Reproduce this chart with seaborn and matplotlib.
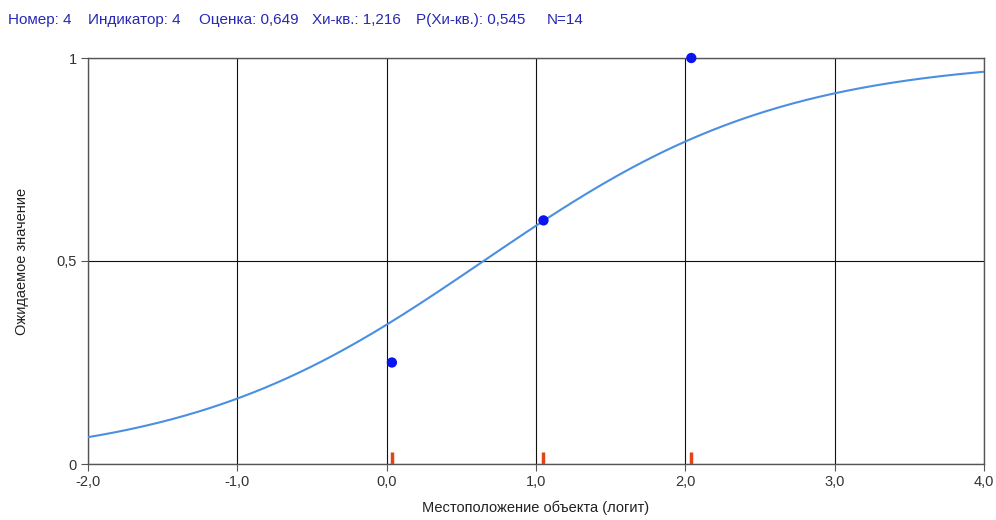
import numpy as np
import pandas as pd
import matplotlib
matplotlib.use("Agg")
import matplotlib.pyplot as plt
import seaborn as sns

# Item summary
item_number = 4
indicator = 4
difficulty = 0.649
chi_sq = 1.216
p_chi_sq = 0.545
n_obs = 14

# Observed group means (logit location, mean score)
group_locations = [0.035, 1.05, 2.04]
group_means = [0.25, 0.60, 1.00]

# Axis ticks
x_ticks = [-2.0, -1.0, 0.0, 1.0, 2.0, 3.0, 4.0]
y_ticks = [0.0, 0.5, 1.0]
y_tick_labels = ["0", "0,5", "1"]


def comma(v, digits):
    return f"{v:.{digits}f}".replace(".", ",")


sns.set_theme(style="white")
plt.rcParams["font.family"] = ["Liberation Sans", "DejaVu Sans"]

fig = plt.figure(figsize=(9.96, 5.2), dpi=100)
ax = fig.add_axes([88 / 996, 1 - 464 / 520, (984 - 88) / 996, (464 - 58) / 520])

# Expected score curve (Rasch model) from the item estimate
theta = np.linspace(-2.0, 4.0, 400)
curve = pd.DataFrame({"x": theta, "y": 1.0 / (1.0 + np.exp(-(theta - difficulty)))})
sns.lineplot(data=curve, x="x", y="y", ax=ax, color="#4a8fe0", linewidth=1.5, zorder=3)

obs = pd.DataFrame({"x": group_locations, "y": group_means})
sns.scatterplot(data=obs, x="x", y="y", ax=ax, color="#0a14f0", s=55,
                edgecolor="none", zorder=5, clip_on=False)

# Group location markers on the baseline
ax.vlines(group_locations, 0, 0.03, colors="#e0451a", linewidth=2.5, zorder=4)

ax.set_xlim(-2.0, 4.0)
ax.set_ylim(0.0, 1.0)
ax.set_xticks(x_ticks)
ax.set_xticklabels([comma(v, 1) for v in x_ticks])
ax.set_yticks(y_ticks)
ax.set_yticklabels(y_tick_labels)

ax.grid(True, color="#111111", linewidth=0.8)
ax.set_axisbelow(True)
for s in ax.spines.values():
    s.set_visible(True)
    s.set_color("#555555")
    s.set_linewidth(1.0)

ax.tick_params(axis="both", which="major", length=5, width=0.8, color="#555555",
               labelsize=10.5, labelcolor="#333333", bottom=True, left=True, pad=3)

ax.set_xlabel("Местоположение объекта (логит)", fontsize=10.5, color="#222222", labelpad=8)
ax.set_ylabel("Ожидаемое значение", fontsize=10.5, color="#222222", labelpad=20)

# Header with item statistics, one field per slot
header_fields = [
    f"Номер: {item_number}",
    f"Индикатор: {indicator}",
    f"Оценка: {comma(difficulty, 3)}",
    f"Хи-кв.: {comma(chi_sq, 3)}",
    f"P(Хи-кв.): {comma(p_chi_sq, 3)}",
    f"N={n_obs}",
]
header_x = [8, 88, 199, 312, 416, 547]
for hx, field in zip(header_x, header_fields):
    fig.text(hx / 996, 1 - 20 / 520, field,
             fontsize=11, color="#2828b4", va="center", ha="left")

fig.savefig("out.png", dpi=100)
